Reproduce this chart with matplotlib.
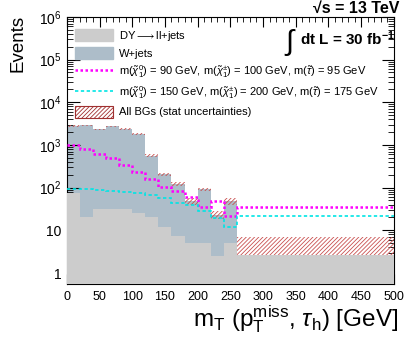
## mT distribution, stacked backgrounds + two signal points
import matplotlib.pyplot as plt
from matplotlib.patches import Patch
from matplotlib.lines import Line2D
from matplotlib.ticker import FixedLocator, MultipleLocator, NullFormatter
import numpy as np

plt.rcParams['font.family'] = ['Liberation Sans', 'DejaVu Sans']
plt.rcParams['mathtext.fontset'] = 'custom'
plt.rcParams['mathtext.rm'] = 'Liberation Sans'
plt.rcParams['mathtext.it'] = 'Liberation Sans:italic'
plt.rcParams['mathtext.bf'] = 'Liberation Sans:bold'
plt.rcParams['hatch.linewidth'] = 0.6

# bin edges (GeV)
edges = [0, 20, 40, 60, 80, 100, 120, 140, 160, 180, 200, 220, 240, 260, 500]
# background yields per bin
dy = [76, 20, 31.6, 31.6, 31.6, 25, 20, 12, 7.4, 5.1, 5.1, 2.5, 5.1, 2.6]
wjets = [2690, 2860, 2300, 2710, 2370, 1755, 540, 193, 113, 43, 86, 20.5, 43, 0]
bg_err = [100, 100, 90, 100, 100, 80, 40, 18, 13, 8, 9, 5, 9, 4.5]
# signals
sig1 = [1000, 815, 612, 500, 340, 235, 156, 106, 82, 62, 36, 49, 21.6, 36]
sig2 = [94, 93, 89, 85, 80, 73, 67, 57, 44, 39, 28, 19, 12.2, 21.6]

yticks = [1, 10, 100, 1e3, 1e4, 1e5, 1e6]
ytick_labels = ['1', '10', r'$10^{2}$', r'$10^{3}$', r'$10^{4}$', r'$10^{5}$', r'$10^{6}$']

c_dy = '#cccccc'
c_w = '#adbdc9'
c_hatch = '#c85050'

if __name__ == '__main__':
    fig = plt.figure(figsize=(4.15, 3.39), dpi=100)
    ax = fig.add_axes([0.161, 0.162, 0.788, 0.788])
    ax.set_yscale('log')
    low = 0.55

    total = np.array(dy) + np.array(wjets)
    ax.stairs(total, edges, fill=True, baseline=low, color=c_w, zorder=1)
    up = total + np.array(bg_err)
    lo = np.maximum(total - np.array(bg_err), low)
    ax.stairs(up, edges, baseline=lo, fill=True, facecolor='none',
              edgecolor=c_hatch, hatch='////////', linewidth=0, zorder=2)
    ax.stairs(dy, edges, fill=True, baseline=low, color=c_dy, zorder=3)

    ax.stairs(sig1, edges, baseline=None, color='#ff00ff', linewidth=1.8,
              linestyle=(0, (1, 1)), zorder=4)
    ax.stairs(sig2, edges, baseline=None, color='#00e5e5', linewidth=1.2,
              linestyle=(0, (2, 1.5)), zorder=4)

    ax.set_xlim(0, 500)
    ax.set_ylim(low, 1e6)
    ax.xaxis.set_major_locator(MultipleLocator(50))
    ax.xaxis.set_minor_locator(MultipleLocator(10))
    ax.yaxis.set_major_locator(FixedLocator(yticks))
    ax.set_yticklabels(ytick_labels)
    ax.yaxis.set_minor_formatter(NullFormatter())
    ax.tick_params(which='both', direction='in', top=True, right=True)
    ax.tick_params(axis='x', which='major', length=7, labelsize=9, pad=5)
    ax.tick_params(axis='x', which='minor', length=3.5)
    ax.tick_params(axis='y', which='major', length=9, labelsize=10, pad=4)
    ax.tick_params(axis='y', which='minor', length=4.5)

    fig.text(18 / 415, 1 - 15 / 339, 'Events', rotation=90, ha='center', va='top', fontsize=13.5)
    fig.text(398 / 415, 1 - 326 / 339,
             r'm$_{\mathrm{T}}$ (p$_{\mathrm{T}}^{\mathrm{miss}}$, $\tau_{\mathrm{h}}$) [GeV]',
             ha='right', va='baseline', fontsize=17.5)
    fig.text(399 / 415, 1 - 1 / 339, '\u221as = 13 TeV', ha='right', va='top',
             fontsize=11.5, fontweight='bold')
    fig.text(395 / 415, 1 - 45 / 339, r'dt L = 30 fb$^{\mathbf{-1}}$',
             ha='right', va='baseline', fontsize=11, fontweight='bold')
    fig.text(297 / 415, 1 - 50 / 339, r'$\int$', ha='right', va='baseline', fontsize=21)

    handles = [
        Patch(facecolor=c_dy, edgecolor=c_dy),
        Patch(facecolor=c_w, edgecolor=c_w),
        Line2D([], [], color='#ff00ff', linewidth=1.8, linestyle=(0, (1, 1))),
        Line2D([], [], color='#00e5e5', linewidth=1.2, linestyle=(0, (2, 1.5))),
        Patch(facecolor='white', edgecolor='#a03030', hatch='////////', linewidth=0.8),
    ]
    labels = [
        r'DY$\longrightarrow$ll+jets',
        'W+jets',
        r'm($\tilde{\chi}_{1}^{0}$) = 90 GeV, m($\tilde{\chi}_{1}^{\pm}$) = 100 GeV, m($\tilde{\tau}$) = 95 GeV',
        r'm($\tilde{\chi}_{1}^{0}$) = 150 GeV, m($\tilde{\chi}_{1}^{\pm}$) = 200 GeV, m($\tilde{\tau}$) = 175 GeV',
        'All BGs (stat uncertainties)',
    ]
    ax.legend(handles, labels, loc='upper left', bbox_to_anchor=(0.025, 0.955), frameon=False,
              fontsize=8, handlelength=3.4, handleheight=1.3, labelspacing=0.38,
              handletextpad=0.6, borderaxespad=0, borderpad=0)

    plt.savefig('out.png', dpi=100)
